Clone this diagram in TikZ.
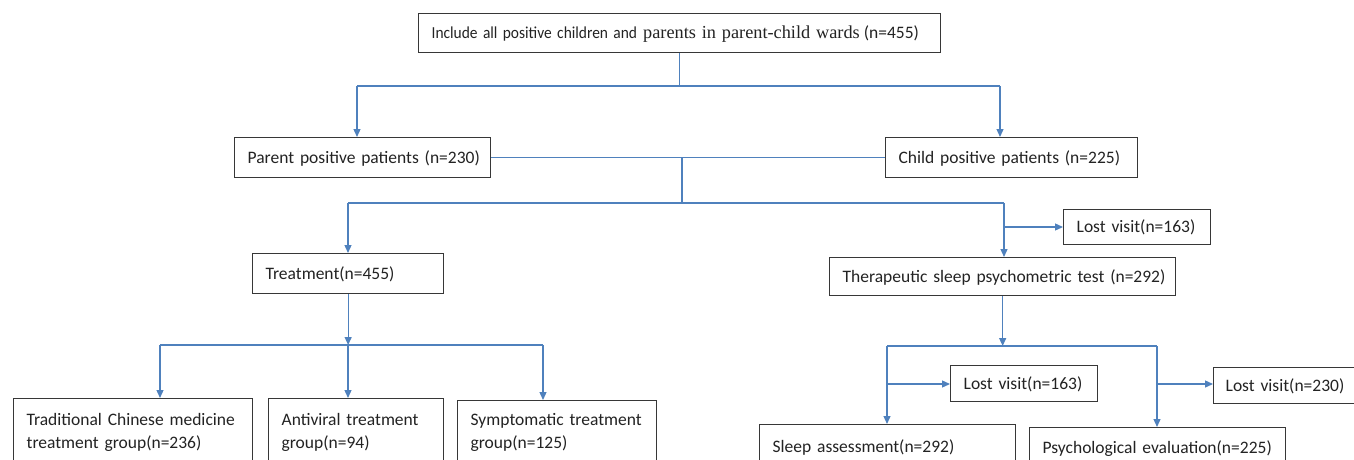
\documentclass[tikz,border=0pt]{standalone}
\usepackage{graphicx}
\usepackage{fontspec}
\setmainfont{Carlito}
\newfontfamily\timesfont{Liberation Serif}
\usetikzlibrary{arrows.meta}
\definecolor{lineblue}{RGB}{79,129,189}
\definecolor{boxgray}{RGB}{55,55,55}
\definecolor{textgray}{RGB}{35,35,35}
\tikzset{
  box/.style={draw=boxgray, line width=1.3pt, fill=white, inner xsep=13pt, inner ysep=0pt,
    align=left, font=\fontsize{17.5}{23}\selectfont, text=textgray, anchor=north west,
    text height=11.5pt, text depth=0pt},
  openbox/.style={box, text depth=60pt},
  conn/.style={draw=lineblue, line width=1.3pt},
  arr/.style={conn, -{Triangle[length=8pt,width=7pt]}},
}
\begin{document}
\begin{tikzpicture}[x=1pt,y=-1pt]
\useasboundingbox (0,0) rectangle (1354,460);
\clip (0,0) rectangle (1354,460);

% nodes
\node[box, text width=496pt, minimum height=39pt] (top) at (418,13)
  {\mbox{\scalebox{0.92}[1]{\fontsize{16.8}{23}\selectfont Include all positive children and}\hspace{6pt}{\timesfont\fontsize{18.3}{23}\selectfont parents in parent-child wards}\hspace{4pt}(n=455)}};
\node[box, text width=230pt, minimum height=40pt] (parent) at (234,137) {\mbox{Parent positive patients (n=230)}};
\node[box, text width=226pt, minimum height=40pt] (child) at (885,137) {\mbox{Child positive patients (n=225)}};
\node[box, text width=165pt, minimum height=40pt] (treat) at (252,253) {\mbox{Treatment(n=455)}};
\node[box, text width=121pt, minimum height=35pt] (lost1) at (1063,209) {\mbox{Lost visit(n=163)}};
\node[box, text width=320pt, minimum height=38pt] (thera) at (829,257) {\mbox{Therapeutic sleep psychometric test (n=292)}};
\node[box, text width=121pt, minimum height=36pt] (lost2) at (950,365) {\mbox{Lost visit(n=163)}};
\node[box, inner xsep=12pt, text width=117pt, minimum height=36pt] (lost3) at (1213,367) {\mbox{Lost visit(n=230)}};
\node[openbox, text width=230pt, text height=28pt] (sleep) at (759,424) {\mbox{Sleep assessment(n=292)}};
\node[openbox, text width=230pt, text height=26pt] (psych) at (1029,427) {\mbox{Psychological evaluation(n=225)}};
\node[openbox, text width=213pt, text height=27pt] (tcm) at (13,398) {\mbox{Traditional Chinese medicine}\\\mbox{treatment group(n=236)}};
\node[openbox, text width=149pt, text height=27pt] (anti) at (268,398) {\mbox{Antiviral treatment}\\\mbox{group(n=94)}};
\node[openbox, text width=173pt, text height=25pt] (symp) at (457,400) {\mbox{Symptomatic treatment}\\\mbox{group(n=125)}};

% junction coordinates
\coordinate (h1L) at (357,86);
\coordinate (h1R) at (1000,86);
\coordinate (c2) at (682,203);
\coordinate (h2L) at (348,203);
\coordinate (h2R) at (1004,203);
\coordinate (b1) at (1004,227);
\coordinate (h3) at (348,345);
\coordinate (h3L) at (160,345);
\coordinate (h3R) at (543,345);
\coordinate (h4L) at (887,346);
\coordinate (h4R) at (1157,346);
\coordinate (b2) at (887,384);
\coordinate (b3) at (1157,384);

% connectors
\draw[conn] (top.south) -- (top.south |- h1L);
\draw[conn] (h1L) -- (h1R);
\draw[arr] (h1L) -- (h1L |- parent.north);
\draw[arr] (h1R) -- (h1R |- child.north);
\draw[conn] (parent.east) -- (child.west);
\draw[conn] (c2 |- parent.east) -- (c2);
\draw[conn] (h2L) -- (h2R);
\draw[arr] (h2L) -- (h2L |- treat.north);
\draw[arr] (h2R) -- (h2R |- thera.north);
\draw[arr] (b1) -- (b1 -| lost1.west);
\draw[arr] (treat.south) -- (treat.south |- h3);
\draw[conn] (h3L) -- (h3R);
\draw[arr] (h3L) -- (h3L |- tcm.north);
\draw[arr] (h3) -- (h3 |- anti.north);
\draw[arr] (h3R) -- (h3R |- symp.north);
\draw[arr] (thera.south) -- (thera.south |- h4L);
\draw[conn] (h4L) -- (h4R);
\draw[arr] (h4L) -- (h4L |- sleep.north);
\draw[arr] (h4R) -- (h4R |- psych.north);
\draw[arr] (b2) -- (b2 -| lost2.west);
\draw[arr] (b3) -- (b3 -| lost3.west);
\end{tikzpicture}
\end{document}
